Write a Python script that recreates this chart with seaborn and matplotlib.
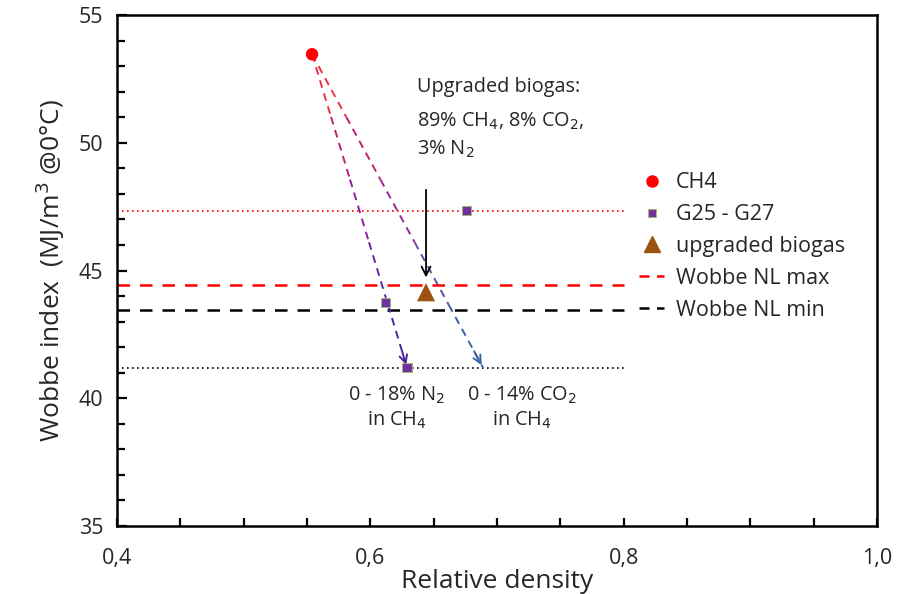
import numpy as np
import pandas as pd
import matplotlib
matplotlib.use("Agg")
import matplotlib.pyplot as plt
from matplotlib.collections import LineCollection
from matplotlib.lines import Line2D
from matplotlib.ticker import MultipleLocator, FuncFormatter
import seaborn as sns

# data
ch4_density = [0.554]
ch4_wobbe = [53.47]
g25_density = [0.612, 0.676, 0.629]
g25_wobbe = [43.75, 47.35, 41.2]
biogas_density = [0.644]
biogas_wobbe = [44.15]
wobbe_max = 44.45
wobbe_min = 43.46
line_range = [0.4, 0.8]
# mixing paths from pure CH4
n2_end = (0.629, 41.2)
co2_end = (0.689, 41.2)
arrow_top = 48.27
arrow_bottom = 44.62

sns.set_style("white")
plt.rcParams['font.family'] = ['Open Sans', 'DejaVu Sans']

fig = plt.figure(figsize=(9.09, 5.94), dpi=100)
ax = fig.add_axes([0.1287, 0.1145, 0.836, 0.860])

# horizontal reference lines
ax.plot(line_range, [g25_wobbe[1]] * 2, color='red', ls=(0, (1, 2)), lw=1.2)
ax.plot(line_range, [g25_wobbe[2]] * 2, color='black', ls=(0, (1, 2)), lw=1.2)
ax.plot(line_range, [wobbe_max] * 2, color='red', ls=(0, (5, 4)), lw=1.8)
ax.plot(line_range, [wobbe_min] * 2, color='black', ls=(0, (5, 4)), lw=1.8)

# dashed gradient paths CH4 -> N2 / CO2 dilution
def grad_path(end, cols):
    n = len(cols)
    xs = np.linspace(ch4_density[0], end[0], n + 1)
    ys = np.linspace(ch4_wobbe[0], end[1], n + 1)
    segs = [[(xs[i], ys[i]), (xs[i + 1], ys[i + 1])] for i in range(n)]
    lc = LineCollection(segs, colors=cols, linestyles=(0, (4, 3)), lw=1.4, zorder=2)
    ax.add_collection(lc)
    ax.annotate("", xy=end, xytext=(xs[-2] + (xs[-1] - xs[-2]) * 0.7, ys[-2] + (ys[-1] - ys[-2]) * 0.7),
                arrowprops=dict(arrowstyle='->', color=cols[-1], lw=1.4, mutation_scale=14), zorder=2)

grad_path(n2_end, ['#f0303c', '#c0207a', '#8a1fa0', '#6a20a0', '#4a24a0'])
grad_path(co2_end, ['#f0303c', '#c0207a', '#9a2a98', '#6a4aa0', '#3a62a8'])

# points
pts = pd.DataFrame({
    'density': ch4_density + g25_density + biogas_density,
    'wobbe': ch4_wobbe + g25_wobbe + biogas_wobbe,
    'gas': ['CH4'] + ['G25 - G27'] * 3 + ['upgraded biogas'],
})
sns.scatterplot(data=pts, x='density', y='wobbe', hue='gas', style='gas',
                palette={'CH4': '#ff0000', 'G25 - G27': '#7030a0', 'upgraded biogas': '#9c5210'},
                markers={'CH4': 'o', 'G25 - G27': 's', 'upgraded biogas': '^'},
                size='gas', sizes={'CH4': 80, 'G25 - G27': 45, 'upgraded biogas': 170},
                edgecolor='none', legend=False, ax=ax, zorder=4)
ax.collections[-1].set_edgecolors(['none', '#a8b878', '#a8b878', '#a8b878', 'none'])
ax.collections[-1].set_linewidths([0, 0.7, 0.7, 0.7, 0])

# black arrow to upgraded biogas
ax.annotate("", xy=(biogas_density[0], arrow_bottom), xytext=(biogas_density[0], arrow_top),
            arrowprops=dict(arrowstyle='->', color='black', lw=1.3, mutation_scale=16))

fs = 14.3
ax.text(0.637, 52.18, "Upgraded biogas:", fontsize=fs, ha='left', va='center')
ax.text(0.637, 50.85, "89% CH$_4$, 8% CO$_2$,", fontsize=fs, ha='left', va='center')
ax.text(0.637, 49.75, "3% N$_2$", fontsize=fs, ha='left', va='center')
ax.text(0.621, 39.62, "0 - 18% N$_2$\nin CH$_4$", fontsize=fs, ha='center', va='center', linespacing=1.2)
ax.text(0.72, 39.62, "0 - 14% CO$_2$\nin CH$_4$", fontsize=fs, ha='center', va='center', linespacing=1.2)

# legend
handles = [
    Line2D([], [], ls='none', marker='o', color='#ff0000', ms=8),
    Line2D([], [], ls='none', marker='s', color='#7030a0', mec='#a8b878', mew=0.7, ms=5.5),
    Line2D([], [], ls='none', marker='^', color='#9c5210', ms=11),
    Line2D([], [], color='red', ls=(0, (4, 3)), lw=1.8),
    Line2D([], [], color='black', ls=(0, (4, 3)), lw=1.8),
]
labels = ['CH4', 'G25 - G27', 'upgraded biogas', 'Wobbe NL max', 'Wobbe NL min']
ax.legend(handles, labels, loc='upper left', bbox_to_anchor=(0.662, 0.73), frameon=False,
          fontsize=15.5, handlelength=1.15, labelspacing=0.5, handletextpad=0.55)

# axes
ax.set_xlim(0.4, 1.0)
ax.set_ylim(35, 55)
ax.xaxis.set_major_locator(MultipleLocator(0.2))
ax.xaxis.set_minor_locator(MultipleLocator(0.05))
ax.yaxis.set_major_locator(MultipleLocator(5))
ax.yaxis.set_minor_locator(MultipleLocator(1))
ax.xaxis.set_major_formatter(FuncFormatter(lambda v, p: f"{v:.1f}".replace('.', ',')))
ax.tick_params(which='both', bottom=True, left=True, direction='in', length=6, width=1.6,
               labelsize=15.5, color='black')
ax.tick_params(axis='x', which='major', pad=16)
ax.tick_params(axis='y', which='major', length=7, pad=10)
for s in ax.spines.values():
    s.set_linewidth(1.8)
    s.set_color('black')
ax.set_xlabel("Relative density", fontsize=19, labelpad=0)
ax.set_ylabel("Wobbe index  (MJ/m$^3$ @0°C)", fontsize=19, labelpad=8)

fig.savefig("out.png", dpi=100)
